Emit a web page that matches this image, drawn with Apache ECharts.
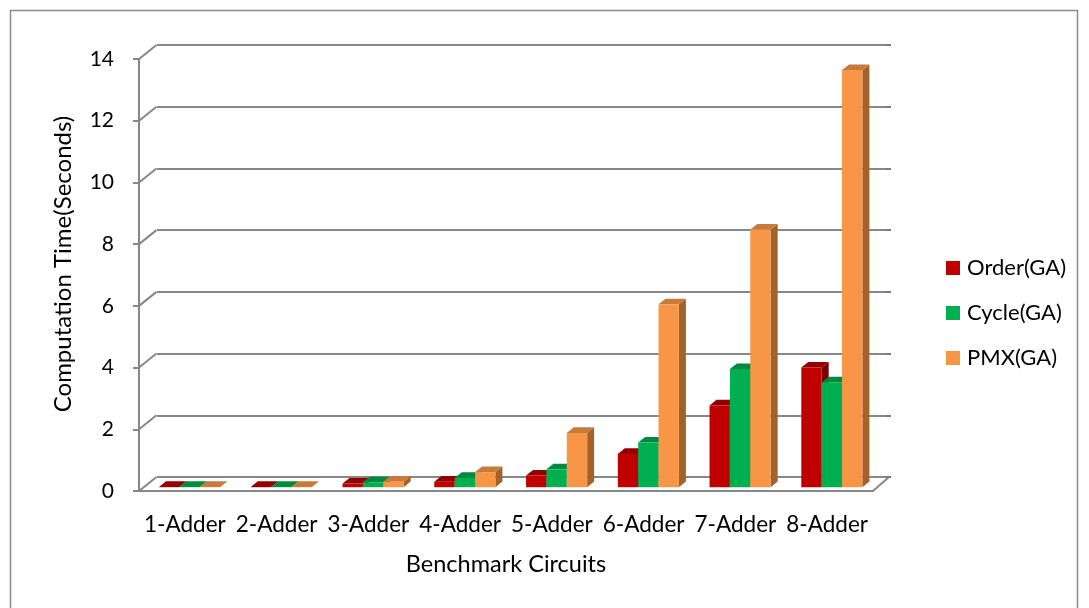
<!DOCTYPE html>
<html>
<head>
<meta charset="utf-8">
<script src="https://cdn.jsdelivr.net/npm/echarts@6/dist/echarts.min.js"></script>
<style>
html, body { margin: 0; padding: 0; background: #ffffff; }
#chart { width: 1089px; height: 608px; }
</style>
</head>
<body>
<div id="chart"></div>
<script>
// Benchmark circuits and computation times (seconds) per crossover operator
const categories = ['1-Adder', '2-Adder', '3-Adder', '4-Adder', '5-Adder', '6-Adder', '7-Adder', '8-Adder'];
const orderGA = [0.01, 0.01, 0.12, 0.18, 0.38, 1.08, 2.65, 3.88];
const cycleGA = [0.01, 0.01, 0.16, 0.30, 0.58, 1.45, 3.83, 3.40];
const pmxGA   = [0.01, 0.01, 0.18, 0.49, 1.76, 5.93, 8.35, 13.52];
const seriesNames = ['Order(GA)', 'Cycle(GA)', 'PMX(GA)'];
const yTicks = [0, 2, 4, 6, 8, 10, 12, 14];

// Oblique projection of the floor / wall depth
const DX = 17.5, DY = -14;
const BAR_FRONT = 0.27;   // where the bar front sits inside the depth
const BAR_DEPTH = 0.4;    // bar thickness as a share of the depth
const BAR_RATIO = 0.222;  // bar width as a share of the category band

const FONT = 'Lato';
const GRID_COLOR = '#878787';

const shades = [
  { front: '#C00000', top: '#930000', side: '#7A0000' },
  { front: '#00B050', top: '#008A3E', side: '#006E31' },
  { front: '#F79646', top: '#C77B3B', side: '#A2622D' }
];

function barRenderer(pos, shade) {
  return function (params, api) {
    const cat = api.value(0);
    const v = api.value(1);
    const base = api.coord([cat, 0]);
    const top = api.coord([cat, v]);
    const band = api.size([1, 0])[0];
    const w = band * BAR_RATIO;
    const ox = DX * BAR_FRONT, oy = DY * BAR_FRONT;
    const dx = DX * BAR_DEPTH, dy = DY * BAR_DEPTH;
    const x0 = base[0] + (pos - 1.5) * w + ox;
    const x1 = x0 + w;
    const yb = base[1] + oy;
    const yt = top[1] + oy;
    return {
      type: 'group',
      children: [
        { type: 'polygon', shape: { points: [[x1, yb], [x1 + dx, yb + dy], [x1 + dx, yt + dy], [x1, yt]] },
          style: { fill: shade.side } },
        { type: 'polygon', shape: { points: [[x0, yt], [x0 + dx, yt + dy], [x1 + dx, yt + dy], [x1, yt]] },
          style: { fill: shade.top } },
        { type: 'rect', shape: { x: x0, y: yt, width: w, height: Math.max(yb - yt, 0) },
          style: { fill: shade.front } }
      ]
    };
  };
}

// Slanted edges joining the front wall ticks to the back gridlines, plus the floor's right edge
function wallRenderer(params, api) {
  const v = api.value(1);
  const cs = params.coordSys;
  const y = api.coord([0, v])[1];
  const children = [{
    type: 'line',
    shape: { x1: cs.x, y1: y, x2: cs.x + DX, y2: y + DY },
    style: { stroke: GRID_COLOR, lineWidth: 2 }
  }];
  if (v === 0) {
    const xr = cs.x + cs.width;
    children.push({
      type: 'line',
      shape: { x1: xr, y1: y, x2: xr + 16, y2: y + DY },
      style: { stroke: GRID_COLOR, lineWidth: 2 }
    });
  }
  return { type: 'group', children: children };
}

const seriesData = [orderGA, cycleGA, pmxGA];

const chart = echarts.init(document.getElementById('chart'), null, { renderer: 'canvas' });

const series = [{
  type: 'custom',
  name: 'walls',
  xAxisIndex: 0,
  yAxisIndex: 0,
  z: 1,
  silent: true,
  renderItem: wallRenderer,
  data: yTicks.map(t => [0, t])
}];

seriesData.forEach((arr, i) => {
  series.push({
    type: 'custom',
    name: seriesNames[i],
    xAxisIndex: 0,
    yAxisIndex: 0,
    z: 2,
    itemStyle: { color: shades[i].front },
    renderItem: barRenderer(i, shades[i]),
    data: arr.map((v, k) => [k, v])
  });
});

chart.setOption({
  backgroundColor: '#ffffff',
  animation: false,
  graphic: [{
    type: 'rect',
    shape: { x: 10.5, y: 10.5, width: 1067, height: 640 },
    style: { fill: 'none', stroke: '#8c8c8c', lineWidth: 1.5 },
    silent: true
  }],
  legend: {
    data: seriesNames,
    orient: 'vertical',
    left: 941,
    top: 252,
    icon: 'rect',
    itemWidth: 14,
    itemHeight: 14,
    itemGap: 23,
    textStyle: { fontFamily: FONT, fontSize: 22, color: '#000000', padding: [0, 0, 0, 2] }
  },
  grid: [
    { left: 139, right: 216, top: 59, bottom: 117 },
    { left: 157, right: 203, top: 45, bottom: 131 }
  ],
  xAxis: [{
    gridIndex: 0,
    type: 'category',
    data: categories,
    axisLine: { lineStyle: { color: GRID_COLOR, width: 2 } },
    axisTick: { show: false },
    axisLabel: { interval: 0, fontFamily: FONT, fontSize: 22.5, color: '#000000', margin: 22 },
    name: 'Benchmark Circuits',
    nameLocation: 'middle',
    nameGap: 61,
    nameTextStyle: { fontFamily: FONT, fontSize: 23.5, color: '#000000' }
  }, {
    gridIndex: 1,
    type: 'category',
    data: categories,
    show: false
  }],
  yAxis: [{
    gridIndex: 0,
    type: 'value',
    min: 0,
    max: 14,
    interval: 2,
    axisLine: { show: true, lineStyle: { color: GRID_COLOR, width: 2 } },
    axisTick: { show: true, length: 6, lineStyle: { color: GRID_COLOR, width: 2 } },
    splitLine: { show: false },
    axisLabel: { fontFamily: FONT, fontSize: 21, color: '#000000', margin: 25 },
    name: 'Computation Time(Seconds)',
    nameLocation: 'middle',
    nameGap: 64,
    nameTextStyle: { fontFamily: FONT, fontSize: 24, color: '#000000', padding: [0, 0, 0, 22] }
  }, {
    gridIndex: 1,
    type: 'value',
    min: 0,
    max: 14,
    interval: 2,
    position: 'left',
    axisLine: { show: false },
    axisTick: { show: false },
    axisLabel: { show: false },
    splitLine: { show: true, lineStyle: { color: GRID_COLOR, width: 2 } }
  }, {
    gridIndex: 1,
    type: 'value',
    min: 0,
    max: 14,
    interval: 2,
    position: 'right',
    axisLine: { show: false },
    axisTick: { show: true, length: 5, lineStyle: { color: '#7a7a7a', width: 2 } },
    axisLabel: { show: false },
    splitLine: { show: false }
  }],
  series: series
});
</script>
</body>
</html>
